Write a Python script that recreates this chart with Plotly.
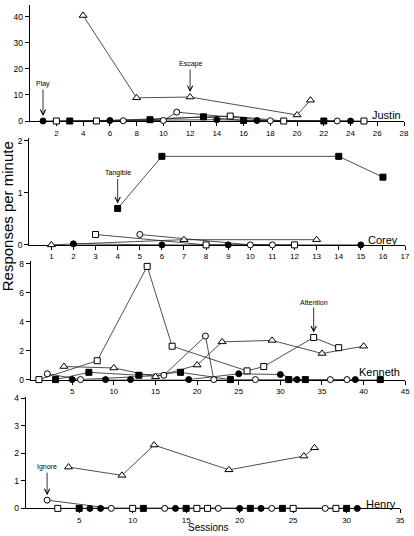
import plotly.graph_objects as go

# ---------------- data ----------------
# Justin
J_play_x = [1, 6, 14, 17, 24]
J_play_y = [0, 0.2, 0.5, 0.2, 0]
J_tang_x = [3, 9, 13, 16, 22]
J_tang_y = [0, 0.5, 1.6, 0.2, 0]
J_att_x = [2, 5, 15, 19, 25]
J_att_y = [0, 0, 1.9, 0, 0]
J_ign_x = [7, 10, 11, 18, 23]
J_ign_y = [0.1, 0.2, 3.4, 0.1, 0]
J_esc_x = [4, 8, 12, 20, 21]
J_esc_y = [40.5, 8.9, 9.2, 2.3, 8.0]

# Corey
C_play_x = [2, 6, 9, 15]
C_play_y = [0.02, 0, 0, 0]
C_tang_x = [4, 6, 14, 16]
C_tang_y = [0.7, 1.7, 1.7, 1.3]
C_att_x = [3, 8, 12]
C_att_y = [0.2, 0, 0]
C_ign_x = [5, 10, 11]
C_ign_y = [0.2, 0, 0]
C_esc_x = [1, 7, 13]
C_esc_y = [0, 0.1, 0.1]

# Kenneth
K_play_x = [5, 9, 12, 19, 25, 30, 32, 39]
K_play_y = [0, 0, 0, 0, 0.4, 0.35, 0, 0]
K_tang_x = [3, 7, 13, 18, 24, 31, 33, 42]
K_tang_y = [0, 0.5, 0.3, 0.5, 0, 0, 0, 0]
K_att_x = [1, 8, 14, 17, 26, 28, 34, 37]
K_att_y = [0, 1.3, 7.8, 2.3, 0.6, 0.9, 2.9, 2.2]
K_ign_x = [2, 6, 16, 21, 22, 27, 36, 38]
K_ign_y = [0.4, 0, 0.3, 3.0, 0, 0, 0, 0]
K_esc_x = [4, 10, 15, 20, 23, 29, 35, 40]
K_esc_y = [0.9, 0.8, 0.2, 1.0, 2.6, 2.7, 1.8, 2.3]

# Henry
H_play_x = [6, 7, 14, 20, 22, 31]
H_play_y = [0, 0, 0, 0, 0, 0]
H_tang_x = [5, 11, 15, 21, 24, 30]
H_tang_y = [0, 0, 0, 0, 0, 0]
H_att_x = [3, 10, 16, 17, 25, 29]
H_att_y = [0, 0, 0, 0, 0, 0]
H_ign_x = [2, 8, 13, 18, 23, 28]
H_ign_y = [0.3, 0, 0, 0, 0, 0]
H_esc_x = [4, 9, 12, 19, 26, 27]
H_esc_y = [1.5, 1.2, 2.3, 1.4, 1.9, 2.2]

names = ["Justin", "Corey", "Kenneth", "Henry"]
x_ranges = [[0, 28], [0, 17], [0, 45], [0, 35]]
x_ticks = [list(range(2, 29, 2)), list(range(1, 18)), list(range(5, 46, 5)), list(range(5, 36, 5))]
y_ranges = [[0, 44.5], [0, 2.05], [0, 8.2], [0, 4.05]]
y_ticks = [[0, 10, 20, 30, 40], [0, 1, 2], [0, 2, 4, 6, 8], [0, 1, 2, 3, 4]]

# ---------------- layout geometry (pixels) ----------------
W, H = 414, 536
x_px = [(30, 409), (29.6, 410), (31, 410.2), (26, 405)]
y_px = [(1.1, 119), (136.4, 245), (261, 382), (399.6, 513)]

def xd(a, b):
    return [a / W, b / W]

def yd(top, bottom):
    return [1 - bottom / H, 1 - top / H]

LINE = dict(color="#222222", width=0.8)
styles = {
    "play": dict(symbol="circle", color="black", size=6, line=dict(color="black", width=1)),
    "tang": dict(symbol="square", color="black", size=6, line=dict(color="black", width=1)),
    "att": dict(symbol="square", color="white", size=6, line=dict(color="black", width=1)),
    "ign": dict(symbol="circle", color="white", size=6, line=dict(color="black", width=1)),
    "esc": dict(symbol="triangle-up", color="white", size=7, line=dict(color="black", width=1)),
}

panels = [
    {"play": (J_play_x, J_play_y), "tang": (J_tang_x, J_tang_y), "att": (J_att_x, J_att_y),
     "ign": (J_ign_x, J_ign_y), "esc": (J_esc_x, J_esc_y)},
    {"play": (C_play_x, C_play_y), "tang": (C_tang_x, C_tang_y), "att": (C_att_x, C_att_y),
     "ign": (C_ign_x, C_ign_y), "esc": (C_esc_x, C_esc_y)},
    {"play": (K_play_x, K_play_y), "tang": (K_tang_x, K_tang_y), "att": (K_att_x, K_att_y),
     "ign": (K_ign_x, K_ign_y), "esc": (K_esc_x, K_esc_y)},
    {"play": (H_play_x, H_play_y), "tang": (H_tang_x, H_tang_y), "att": (H_att_x, H_att_y),
     "ign": (H_ign_x, H_ign_y), "esc": (H_esc_x, H_esc_y)},
]

fig = go.Figure()
order = ["play", "tang", "att", "ign", "esc"]
for i, p in enumerate(panels):
    sfx = "" if i == 0 else str(i + 1)
    for k in order:
        xs, ys = p[k]
        fig.add_trace(go.Scatter(x=xs, y=ys, mode="lines", line=LINE, xaxis="x" + sfx, yaxis="y" + sfx,
                                 cliponaxis=False, hoverinfo="skip"))
    for k in order:
        xs, ys = p[k]
        fig.add_trace(go.Scatter(x=xs, y=ys, mode="markers", marker=styles[k], xaxis="x" + sfx,
                                 yaxis="y" + sfx, cliponaxis=False))

FONT = "Liberation Sans, Arial, sans-serif"
layout = dict(width=W, height=H, margin=dict(l=0, r=0, t=0, b=0), showlegend=False,
              plot_bgcolor="white", paper_bgcolor="white",
              font=dict(family=FONT, color="black"))
for i in range(4):
    sfx = "" if i == 0 else str(i + 1)
    layout["xaxis" + sfx] = dict(domain=xd(*x_px[i]), range=x_ranges[i], anchor="y" + sfx,
                                 tickvals=x_ticks[i], ticks="outside", ticklen=4, tickwidth=1,
                                 tickcolor="black", showline=True, linecolor="black", linewidth=1,
                                 showgrid=False, zeroline=False, tickfont=dict(size=8),
                                 layer="below traces", fixedrange=True)
    layout["yaxis" + sfx] = dict(domain=yd(*y_px[i]), range=y_ranges[i], anchor="x" + sfx,
                                 tickvals=y_ticks[i], ticks="outside", ticklen=4, tickwidth=1,
                                 tickcolor="black", showline=True, linecolor="black", linewidth=1,
                                 showgrid=False, zeroline=False, tickfont=dict(size=8.5),
                                 layer="below traces", fixedrange=True)
fig.update_layout(**layout)

# panel names
name_pos = [(408, 113), (405, 240), (407, 374), (403, 509)]
for nm, (px, py) in zip(names, name_pos):
    fig.add_annotation(text=nm, xref="paper", yref="paper", x=px / W, y=1 - py / H,
                       xanchor="right", yanchor="middle", showarrow=False,
                       font=dict(size=11, family=FONT, color="black"))

# condition labels with arrows
arrows = [
    ("Play", "x", "y", J_play_x[0], J_play_y[0], -37),
    ("Escape", "x", "y", J_esc_x[2], J_esc_y[2], -33),
    ("Tangible", "x2", "y2", C_tang_x[0], C_tang_y[0], -35),
    ("Attention", "x3", "y3", K_att_x[6], K_att_y[6], -35),
    ("Ignore", "x4", "y4", H_ign_x[0], H_ign_y[0], -33),
]
for txt, xr, yr, xv, yv, ay in arrows:
    fig.add_annotation(text=txt, xref=xr, yref=yr, x=xv, y=yv, ax=0, ay=ay,
                       showarrow=True, arrowhead=5, arrowsize=1.3, arrowwidth=0.8,
                       arrowcolor="black", standoff=5, font=dict(size=7, family=FONT, color="black"))

# axis titles
fig.add_annotation(text="Responses per minute", xref="paper", yref="paper", x=7 / W, y=1 - 216 / H,
                   textangle=-90, showarrow=False, xanchor="center", yanchor="middle",
                   font=dict(size=15, family=FONT, color="black"))
fig.add_annotation(text="Sessions", xref="paper", yref="paper", x=211 / W, y=1 - 526 / H,
                   showarrow=False, xanchor="center", yanchor="top", borderpad=0,
                   font=dict(size=10, family=FONT, color="black"))

fig.write_html("out.html", config={"displayModeBar": False},
               post_script="document.body.style.margin='0';document.body.style.overflow='hidden';")
